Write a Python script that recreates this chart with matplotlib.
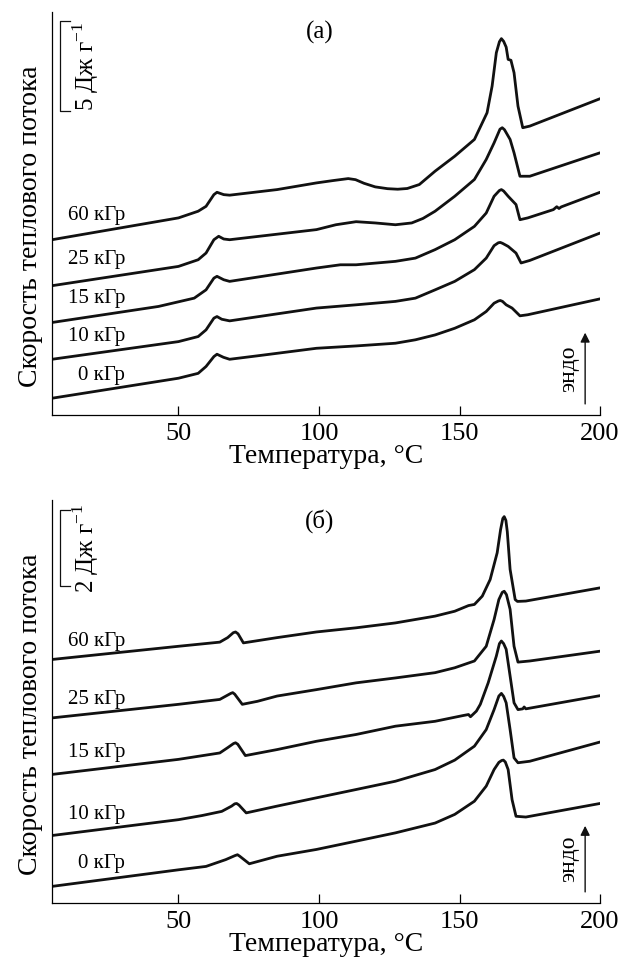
import numpy as np
import matplotlib.pyplot as plt

plt.rcParams['font.family'] = ['Liberation Serif', 'DejaVu Serif']
plt.rcParams['mathtext.fontset'] = 'custom'
plt.rcParams['mathtext.rm'] = 'Liberation Serif'

doses = ['0 кГр', '10 кГр', '15 кГр', '25 кГр', '60 кГр']
xticks = [50, 100, 150, 200]

# panel (a): temperature, degC / heat flow, J/g (curves already shifted)
t_a0 = [5, 50, 57, 59.8, 62.6, 63.7, 66, 68.2, 78, 99.1, 113.2, 127.2, 134.3, 141.3,
        148.3, 155.3, 159.5, 162.3, 163.8, 164.5, 165.3, 166.6, 168.7, 171.5, 174.3, 200]
q_a0 = [0.93, 2.04, 2.31, 2.69, 3.24, 3.37, 3.20, 3.09, 3.28, 3.70, 3.83, 3.98, 4.17, 4.44,
        4.81, 5.28, 5.74, 6.20, 6.32, 6.35, 6.30, 6.11, 5.93, 5.50, 5.56, 6.44]
t_a10 = [5, 50, 57, 59.8, 62.6, 63.7, 65.4, 68.2, 99.1, 113.2, 127.2, 134.3, 141.3,
         148.3, 155.3, 159.5, 162.3, 163.8, 164.5, 165.3, 167.3, 170.1, 171.9, 175.0, 200]
q_a10 = [3.09, 4.07, 4.35, 4.72, 5.37, 5.46, 5.31, 5.22, 5.93, 6.11, 6.30, 6.48, 6.94,
         7.41, 8.06, 8.70, 9.39, 9.55, 9.57, 9.52, 9.35, 8.98, 8.43, 8.57, 10.09]
t_a15 = [5, 42.9, 55.6, 59.8, 62.6, 63.7, 66.1, 68.2, 99.1, 107.6, 113.2, 127.2, 134.3,
         141.3, 148.3, 155.3, 159.5, 162.3, 164.2, 164.9, 165.7, 167.3, 170.1, 171.5,
         174.3, 183.4, 184.6, 185.4, 186.2, 200]
q_a15 = [5.13, 6.02, 6.48, 6.94, 7.59, 7.69, 7.50, 7.41, 8.15, 8.33, 8.33, 8.52, 8.70,
         9.17, 9.72, 10.46, 11.20, 12.13, 12.45, 12.50, 12.42, 12.13, 11.67, 10.83,
         10.93, 11.39, 11.55, 11.45, 11.54, 12.35]
t_a25 = [5, 50, 57, 59.8, 62.6, 64.3, 66.1, 68.2, 99.1, 106, 113.2, 120, 127.2, 133, 137,
         141.3, 148.3, 155.3, 159.5, 162.3, 164.4, 165.2, 166.0, 168.0, 169.4, 171.5, 175.0, 200]
q_a25 = [7.17, 8.24, 8.61, 8.98, 9.72, 9.91, 9.76, 9.72, 10.28, 10.55, 10.72, 10.65, 10.55,
         10.65, 10.90, 11.30, 12.13, 13.06, 14.17, 15.09, 15.85, 15.93, 15.82, 15.28, 14.54,
         13.24, 13.24, 14.54]
t_a60 = [5, 50, 57, 59.8, 62.6, 63.7, 66.1, 68.2, 85.1, 99.1, 105, 110.4, 113, 116, 120,
         124.4, 128, 131.4, 135.7, 141.3, 148.3, 155.3, 159.8, 161.6, 163.1, 164.2, 164.9,
         165.7, 166.6, 167.3, 168.3, 169.4, 170.8, 172.5, 175.0, 200]
q_a60 = [9.72, 10.93, 11.30, 11.57, 12.22, 12.35, 12.22, 12.19, 12.50, 12.87, 13.00, 13.11,
         13.05, 12.85, 12.65, 12.55, 12.52, 12.56, 12.78, 13.52, 14.35, 15.28, 16.76, 18.24,
         20.09, 20.70, 20.87, 20.72, 20.40, 19.72, 19.67, 18.98, 17.13, 15.93, 16.02, 17.54]

# panel (b)
t_b0 = [5, 50, 59.8, 66.8, 70.2, 71.0, 71.8, 75.2, 85.1, 99.1, 113.2, 127.2, 141.3, 148.3,
        155.3, 159.5, 162.3, 164.0, 165.0, 165.6, 166.3, 167.3, 168.7, 170.1, 173.6, 200]
q_b0 = [0.44, 0.88, 0.97, 1.15, 1.26, 1.28, 1.24, 1.04, 1.24, 1.42, 1.64, 1.86, 2.12, 2.35,
        2.70, 3.10, 3.54, 3.73, 3.78, 3.79, 3.74, 3.54, 2.74, 2.30, 2.28, 2.64]
t_b10 = [5, 50, 58.4, 65.4, 68.9, 70.0, 70.7, 71.5, 74.1, 85.1, 99.1, 113.2, 127.2, 141.3,
         148.3, 155.3, 159.5, 162.3, 164.0, 164.9, 165.7, 166.6, 168.0, 169.4, 170.8, 175.0, 200]
q_b10 = [1.79, 2.21, 2.32, 2.43, 2.57, 2.63, 2.64, 2.60, 2.39, 2.57, 2.79, 3.01, 3.23, 3.54,
         3.79, 4.16, 4.60, 5.13, 5.49, 5.56, 5.48, 5.31, 4.60, 3.85, 3.72, 3.76, 4.27]
t_b15 = [5, 50, 64.7, 67.5, 69.6, 70.3, 71.1, 73.8, 85.1, 99.1, 113.2, 127.2, 141.3, 151.1,
         153.2, 153.9, 156.0, 157.4, 160.2, 163.1, 164.2, 164.9, 165.7, 166.6, 168.0, 169.4,
         170.8, 172.5, 173.0, 173.6, 200]
q_b15 = [3.41, 3.81, 3.98, 4.12, 4.23, 4.25, 4.21, 3.91, 4.07, 4.29, 4.47, 4.69, 4.82, 4.97,
         5.00, 4.94, 5.09, 5.27, 5.84, 6.55, 6.88, 6.95, 6.88, 6.73, 6.02, 5.31, 5.13, 5.15,
         5.20, 5.15, 5.50]
t_b25 = [5, 50, 64.7, 68.6, 69.3, 70.0, 72.7, 78.1, 85.1, 99.1, 113.2, 127.2, 141.3, 148.3,
         155.3, 159.5, 162.3, 164.0, 165.2, 165.9, 166.7, 168.0, 169.4, 170.8, 175.0, 200]
q_b25 = [4.91, 5.27, 5.40, 5.56, 5.58, 5.54, 5.27, 5.35, 5.49, 5.66, 5.84, 5.97, 6.11, 6.24,
         6.42, 6.81, 7.52, 8.05, 8.24, 8.27, 8.18, 7.79, 6.81, 6.39, 6.42, 6.68]
t_b60 = [5, 50, 64.7, 67.5, 69.5, 70.3, 71.2, 73.1, 85.1, 99.1, 113.2, 127.2, 141.3, 148.3,
         153.2, 155.3, 158.1, 160.9, 163.4, 164.6, 165.4, 165.9, 166.5, 167.0, 168.0, 169.8,
         170.6, 173.6, 200]
q_b60 = [6.46, 6.81, 6.92, 7.04, 7.17, 7.19, 7.14, 6.90, 7.04, 7.19, 7.30, 7.43, 7.61, 7.74,
         7.89, 7.92, 8.14, 8.58, 9.29, 9.90, 10.20, 10.25, 10.15, 9.85, 8.85, 8.05, 8.00,
         8.01, 8.36]

# label heights (J/g) next to each curve
lab_a = [2.17, 4.35, 6.48, 8.61, 11.06]
lab_b = [1.06, 2.36, 3.98, 5.40, 6.95]

panels = [
    dict(ts=[t_a0, t_a10, t_a15, t_a25, t_a60], qs=[q_a0, q_a10, q_a15, q_a25, q_a60],
         labs=lab_a, ylim=22.35, title='(a)', bar=5, bar_top=21.85, arrow=(0.46, 4.72)),
    dict(ts=[t_b0, t_b10, t_b15, t_b25, t_b60], qs=[q_b0, q_b10, q_b15, q_b25, q_b60],
         labs=lab_b, ylim=10.69, title='(б)', bar=2, bar_top=10.42, arrow=(0.22, 2.12)),
]

fig = plt.figure(figsize=(6.2, 9.64), dpi=100)
rects = [[0.0839, 0.5695, 0.8839, 0.4181], [0.0839, 0.0633, 0.8839, 0.4180]]

for rect, p in zip(rects, panels):
    ax = fig.add_axes(rect)
    for t, q in zip(p['ts'], p['qs']):
        ax.plot(t, q, color='#111111', lw=2.0, solid_joinstyle='round', solid_capstyle='round')
    for name, y in zip(doses, p['labs']):
        ax.text(31, y, name, ha='right', va='center', fontsize=15)
    ax.set_xlim(5, 200)
    ax.set_ylim(0, p['ylim'])
    ax.set_xticks(xticks)
    ax.set_yticks([])
    ax.tick_params(axis='x', direction='in', length=6.5, width=0.9, labelsize=19, pad=6)
    for s in ['top', 'right']:
        ax.spines[s].set_visible(False)
    for s in ['left', 'bottom']:
        ax.spines[s].set_linewidth(0.9)
    ax.set_xlabel('Температура, °C', fontsize=20, labelpad=-1)
    ax.set_ylabel('Скорость теплового потока', fontsize=20)
    ax.yaxis.set_label_coords(-0.017, 0.469)
    ax.text(100.3, p['ylim'] * 0.948, p['title'], ha='center', va='center', fontsize=18)

    # scale bar
    y1, y0 = p['bar_top'], p['bar_top'] - p['bar']
    ax.plot([11.3, 7.8, 7.8, 11.3], [y1, y1, y0, y0], color='#111111', lw=0.9)
    ax.text(17, (y0 + y1) / 2, '%d Дж г$^{\\mathregular{-1}}$' % p['bar'],
            rotation=90, ha='center', va='center', fontsize=18)

    # endo arrow
    a0, a1 = p['arrow']
    ax.annotate('', xy=(194.7, a1), xytext=(194.7, a0),
                arrowprops=dict(arrowstyle='-|>', color='#111111', lw=1.0,
                                mutation_scale=14))
    ax.text(189, (a0 + a1) / 2, 'эндо', rotation=90, ha='center', va='center', fontsize=17)

fig.savefig('out.png', dpi=100)
